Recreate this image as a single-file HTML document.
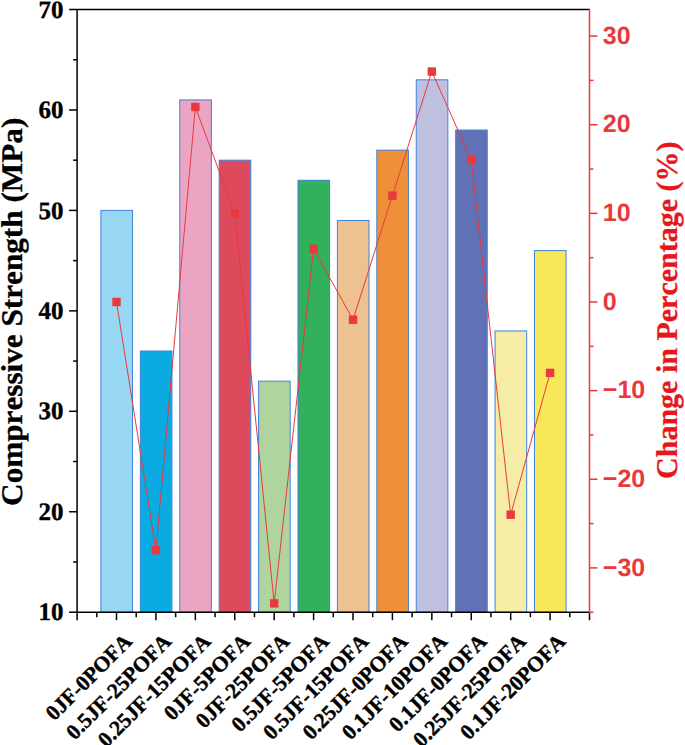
<!DOCTYPE html>
<html lang="en"><head><meta charset="utf-8"><title>Compressive Strength chart</title>
<style>html,body{margin:0;padding:0;background:#fff}svg{display:block}text{font-kerning:none;text-rendering:geometricPrecision}.ser{font-family:"Liberation Serif","Times New Roman",serif;font-weight:bold}.san{font-family:"Liberation Sans",Arial,sans-serif;font-weight:bold}</style></head><body>
<svg width="685" height="745" viewBox="0 0 685 745">
<rect width="685" height="745" fill="#fff"/>
<rect x="100.92" y="210.40" width="31.6" height="401.80" fill="#98D7F1" stroke="#3F82DC" stroke-width="1"/>
<rect x="140.33" y="351.03" width="31.6" height="261.17" fill="#09ABE1" stroke="#3F82DC" stroke-width="1"/>
<rect x="179.75" y="99.91" width="31.6" height="512.29" fill="#EBA5C3" stroke="#3F82DC" stroke-width="1"/>
<rect x="219.16" y="160.18" width="31.6" height="452.02" fill="#DC4A5B" stroke="#3F82DC" stroke-width="1"/>
<rect x="258.58" y="381.17" width="31.6" height="231.03" fill="#B0D49D" stroke="#3F82DC" stroke-width="1"/>
<rect x="297.99" y="180.27" width="31.6" height="431.94" fill="#33B05B" stroke="#3F82DC" stroke-width="1"/>
<rect x="337.41" y="220.45" width="31.6" height="391.75" fill="#EEC191" stroke="#3F82DC" stroke-width="1"/>
<rect x="376.82" y="150.13" width="31.6" height="462.07" fill="#EF9039" stroke="#3F82DC" stroke-width="1"/>
<rect x="416.24" y="79.82" width="31.6" height="532.38" fill="#BFC0DF" stroke="#3F82DC" stroke-width="1"/>
<rect x="455.65" y="130.04" width="31.6" height="482.16" fill="#6171B5" stroke="#3F82DC" stroke-width="1"/>
<rect x="495.07" y="330.94" width="31.6" height="281.26" fill="#F5EDA6" stroke="#3F82DC" stroke-width="1"/>
<rect x="534.48" y="250.58" width="31.6" height="361.62" fill="#F8E859" stroke="#3F82DC" stroke-width="1"/>
<polyline points="116.52,301.99 155.93,550.16 195.35,107.00 234.76,213.35 274.18,603.34 313.59,248.81 353.01,319.71 392.42,195.63 431.84,71.54 471.25,160.18 510.67,514.70 550.08,372.89" fill="none" stroke="#E9393D" stroke-width="1"/>
<rect x="112.32" y="297.79" width="8.4" height="8.4" fill="#E9393D"/>
<rect x="151.73" y="545.96" width="8.4" height="8.4" fill="#E9393D"/>
<rect x="191.15" y="102.80" width="8.4" height="8.4" fill="#E9393D"/>
<rect x="230.56" y="209.15" width="8.4" height="8.4" fill="#E9393D"/>
<rect x="269.98" y="599.14" width="8.4" height="8.4" fill="#E9393D"/>
<rect x="309.39" y="244.61" width="8.4" height="8.4" fill="#E9393D"/>
<rect x="348.81" y="315.51" width="8.4" height="8.4" fill="#E9393D"/>
<rect x="388.22" y="191.43" width="8.4" height="8.4" fill="#E9393D"/>
<rect x="427.64" y="67.34" width="8.4" height="8.4" fill="#E9393D"/>
<rect x="467.05" y="155.98" width="8.4" height="8.4" fill="#E9393D"/>
<rect x="506.47" y="510.50" width="8.4" height="8.4" fill="#E9393D"/>
<rect x="545.88" y="368.69" width="8.4" height="8.4" fill="#E9393D"/>
<g stroke="#000" stroke-width="1.5" fill="none">
<path d="M77.1 612.95V9.5H589.5"/>
<path d="M76.35 612.2H589.5"/>
<path d="M69.10 612.20H77.1"/>
<path d="M73.10 561.98H77.1"/>
<path d="M69.10 511.75H77.1"/>
<path d="M73.10 461.53H77.1"/>
<path d="M69.10 411.30H77.1"/>
<path d="M73.10 361.08H77.1"/>
<path d="M69.10 310.85H77.1"/>
<path d="M73.10 260.63H77.1"/>
<path d="M69.10 210.40H77.1"/>
<path d="M73.10 160.18H77.1"/>
<path d="M69.10 109.95H77.1"/>
<path d="M73.10 59.73H77.1"/>
<path d="M69.10 9.50H77.1"/>
<path d="M77.10 612.2V620.20"/>
<path d="M96.81 612.2V617.20"/>
<path d="M116.52 612.2V620.20"/>
<path d="M136.22 612.2V617.20"/>
<path d="M155.93 612.2V620.20"/>
<path d="M175.64 612.2V617.20"/>
<path d="M195.35 612.2V620.20"/>
<path d="M215.05 612.2V617.20"/>
<path d="M234.76 612.2V620.20"/>
<path d="M254.47 612.2V617.20"/>
<path d="M274.18 612.2V620.20"/>
<path d="M293.88 612.2V617.20"/>
<path d="M313.59 612.2V620.20"/>
<path d="M333.30 612.2V617.20"/>
<path d="M353.01 612.2V620.20"/>
<path d="M372.72 612.2V617.20"/>
<path d="M392.42 612.2V620.20"/>
<path d="M412.13 612.2V617.20"/>
<path d="M431.84 612.2V620.20"/>
<path d="M451.55 612.2V617.20"/>
<path d="M471.25 612.2V620.20"/>
<path d="M490.96 612.2V617.20"/>
<path d="M510.67 612.2V620.20"/>
<path d="M530.38 612.2V617.20"/>
<path d="M550.08 612.2V620.20"/>
<path d="M569.79 612.2V617.20"/>
<path d="M589.50 612.2V620.20"/>
</g>
<g stroke="#E9393D" stroke-width="1.5" fill="none">
<path d="M589.5 8.75V612.95"/>
<path d="M589.5 612.20H593.50"/>
<path d="M589.5 567.88H597.50"/>
<path d="M589.5 523.57H593.50"/>
<path d="M589.5 479.25H597.50"/>
<path d="M589.5 434.94H593.50"/>
<path d="M589.5 390.62H597.50"/>
<path d="M589.5 346.30H593.50"/>
<path d="M589.5 301.99H597.50"/>
<path d="M589.5 257.67H593.50"/>
<path d="M589.5 213.35H597.50"/>
<path d="M589.5 169.04H593.50"/>
<path d="M589.5 124.72H597.50"/>
<path d="M589.5 80.41H593.50"/>
<path d="M589.5 36.09H597.50"/>
</g>
<g class="ser" font-size="25" text-anchor="end" fill="#000" stroke="#000" stroke-width="0.35">
<text x="63.4" y="620.30">10</text>
<text x="63.4" y="519.85">20</text>
<text x="63.4" y="419.40">30</text>
<text x="63.4" y="318.95">40</text>
<text x="63.4" y="218.50">50</text>
<text x="63.4" y="118.05">60</text>
<text x="63.4" y="17.60">70</text>
</g>
<g class="san" font-size="25" fill="#E9393D">
<text x="602.8" y="575.58">−30</text>
<text x="602.8" y="486.95">−20</text>
<text x="602.8" y="398.32">−10</text>
<text x="602.8" y="309.69">0</text>
<text x="602.8" y="221.05">10</text>
<text x="602.8" y="132.42">20</text>
<text x="602.8" y="43.79">30</text>
</g>
<g class="ser" font-size="21.6" text-anchor="end" fill="#000" stroke="#000" stroke-width="0.4">
<text transform="translate(133.22 642.70) rotate(-45)">0JF-0POFA</text>
<text transform="translate(172.63 642.70) rotate(-45)">0.5JF-25POFA</text>
<text transform="translate(212.05 642.70) rotate(-45)">0.25JF-15POFA</text>
<text transform="translate(251.46 642.70) rotate(-45)">0JF-5POFA</text>
<text transform="translate(290.88 642.70) rotate(-45)">0JF-25POFA</text>
<text transform="translate(330.29 642.70) rotate(-45)">0.5JF-5POFA</text>
<text transform="translate(369.71 642.70) rotate(-45)">0.5JF-15POFA</text>
<text transform="translate(409.12 642.70) rotate(-45)">0.25JF-0POFA</text>
<text transform="translate(448.54 642.70) rotate(-45)">0.1JF-10POFA</text>
<text transform="translate(487.95 642.70) rotate(-45)">0.1JF-0POFA</text>
<text transform="translate(527.37 642.70) rotate(-45)">0.25JF-25POFA</text>
<text transform="translate(566.78 642.70) rotate(-45)">0.1JF-20POFA</text>
</g>
<text class="ser" font-size="30" fill="#000" stroke="#000" stroke-width="0.3" text-anchor="middle" transform="translate(21.5 311.8) rotate(-90) scale(1.04 1)">Compressive Strength (MPa)</text>
<text class="ser" font-size="30" fill="#E8161B" stroke="#E8161B" stroke-width="0.3" text-anchor="middle" transform="translate(676.5 310.2) rotate(-90)">Change in Percentage (%)</text>
</svg></body></html>
